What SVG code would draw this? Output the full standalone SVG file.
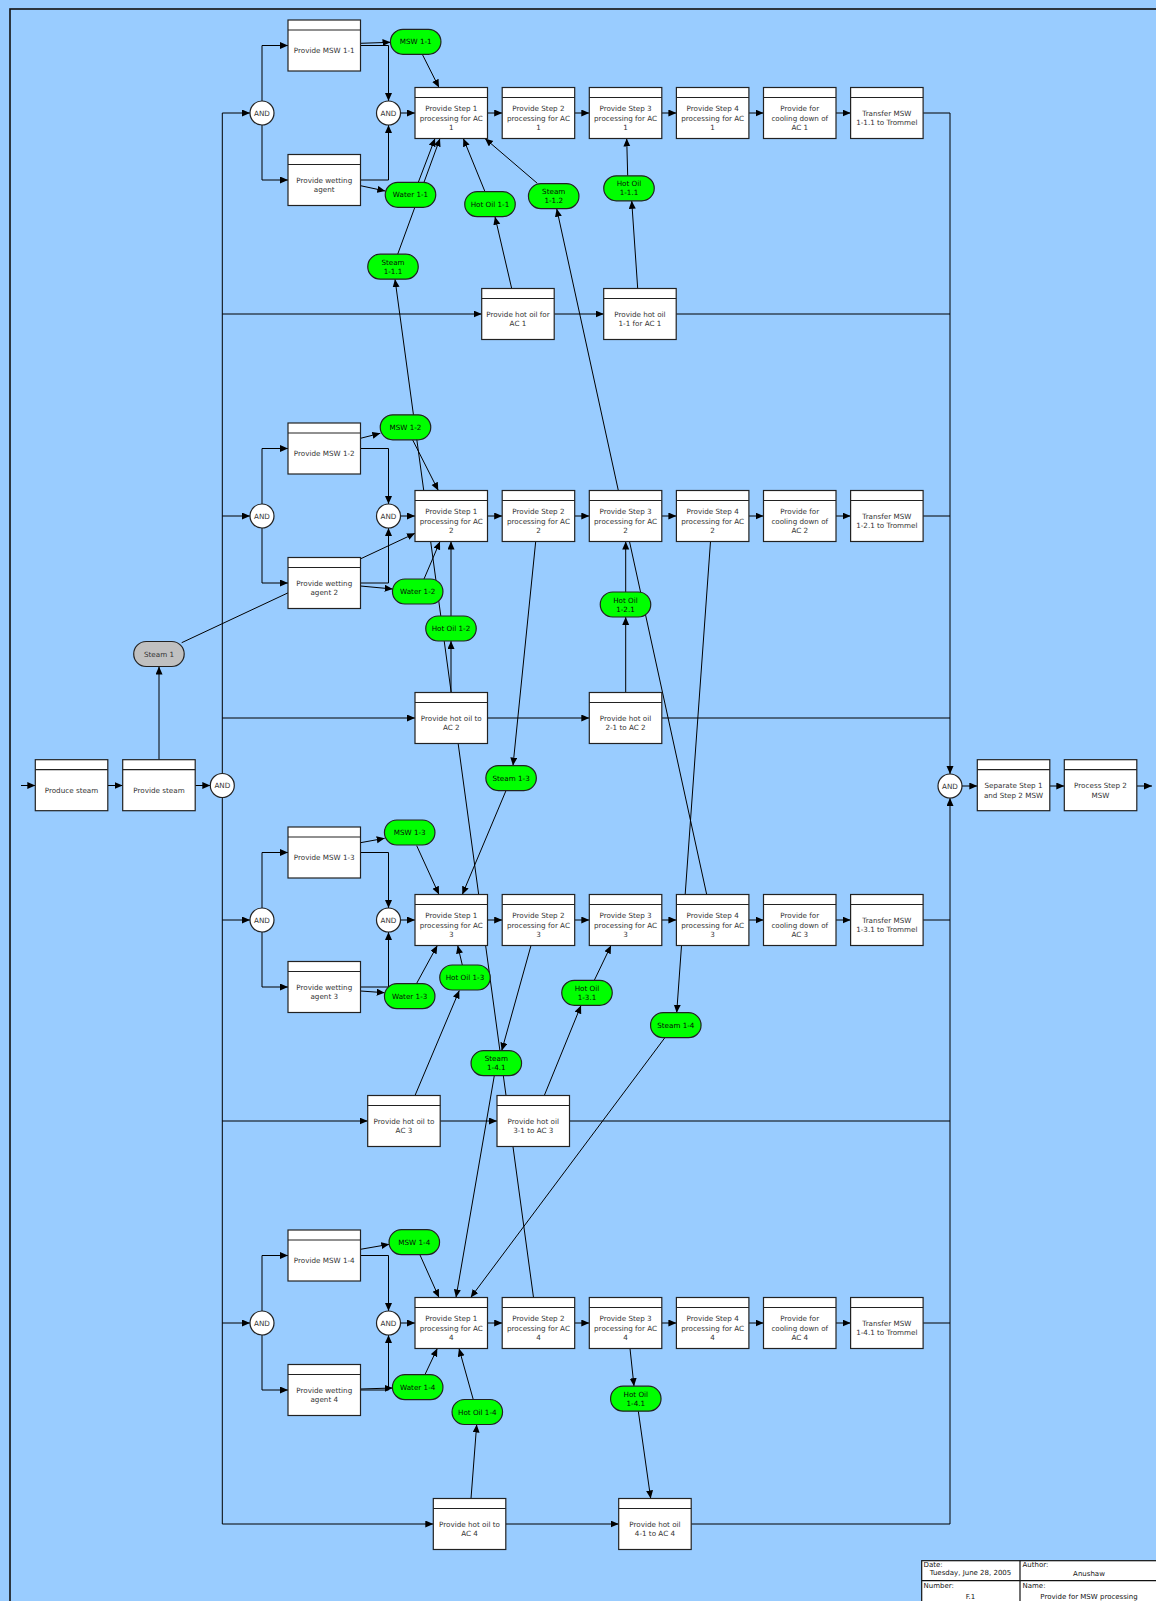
<svg xmlns="http://www.w3.org/2000/svg" width="1156" height="1601" viewBox="0 0 1156 1601">
<defs>
<marker id="ah" markerUnits="userSpaceOnUse" markerWidth="9" markerHeight="8" refX="8" refY="3.5" orient="auto"><path d="M0,0 L8,3.5 L0,7 z" fill="#000"/></marker>
</defs>
<style>
.bg{fill:#99ccff}
.frame{fill:none;stroke:#111;stroke-width:1.6}
.box{fill:#fff;stroke:#222;stroke-width:1.2}
.hdr{stroke:#222;stroke-width:1.2}
.pill{fill:#00ff00;stroke:#222;stroke-width:1.2}
.gray{fill:#c0c0c0;stroke:#222;stroke-width:1.2}
.and{fill:#fff;stroke:#222;stroke-width:1.2}
.t{font-family:"DejaVu Sans",sans-serif;font-size:7.2px;fill:#333;text-anchor:middle}
.pt{fill:#061006}
.tb{font-family:"DejaVu Sans",sans-serif;font-size:7px;fill:#111}
.c{fill:none;stroke:#000;stroke-width:1}
.a{marker-end:url(#ah)}
.tbl{fill:#fff;stroke:#111;stroke-width:1.2}
</style>
<rect class="bg" x="0" y="0" width="1156" height="1601"/>
<rect class="frame" x="10" y="9" width="1200" height="1650"/>

<!-- connectors -->
<g id="connectors">
<!-- steam supply -->
<path class="c a" d="M21,785.5 H35.3"/>
<path class="c a" d="M107.8,785.5 H122.7"/>
<path class="c a" d="M195.2,785.5 H210.3"/>
<path class="c a" d="M159,759.7 V666.6"/>
<path class="c a" d="M181.7,642.7 L415,533.3"/>
<!-- distribution trunk -->
<path class="c" d="M222.3,113 V1524"/>
<!-- collection line -->
<path class="c a" d="M950,113 V774"/>
<path class="c a" d="M950,1524 V798"/>
<path class="c a" d="M962,786 H977.3"/>
<path class="c a" d="M1049.8,786 H1064.3"/>
<path class="c a" d="M1136.8,786 H1152"/>

<!-- row 1 -->
<path class="c a" d="M222.3,113 H250"/>
<path class="c a" d="M262,101 V45.5 H288"/>
<path class="c a" d="M262,125 V180 H288"/>
<path class="c a" d="M360.5,45.5 H388.5 V101"/>
<path class="c a" d="M360.5,180 H388.5 V125"/>
<path class="c a" d="M400.5,113 H415"/>
<path class="c a" d="M487.5,113 H502.2"/>
<path class="c a" d="M574.7,113 H589.3"/>
<path class="c a" d="M661.8,113 H676.4"/>
<path class="c a" d="M748.9,113 H763.5"/>
<path class="c a" d="M836,113 H850.6"/>
<path class="c" d="M923.1,113 H950"/>
<path class="c a" d="M360.5,43.3 L390.5,42.3"/>
<path class="c a" d="M360.5,185.7 L385.3,191"/>
<path class="c a" d="M422.3,54.3 L439,87.5"/>
<path class="c a" d="M418.3,182.3 L435,138.5"/>
<path class="c a" d="M397.7,254.2 L440,138.5"/>
<path class="c a" d="M485,191.7 L463.3,138.5"/>
<path class="c a" d="M537.3,183.3 L485,138.5"/>
<path class="c a" d="M627.7,175.8 L626.7,138.5"/>
<path class="c a" d="M222.3,314 H481.7"/>
<path class="c a" d="M554.2,314 H603.7"/>
<path class="c" d="M676.2,314 H950"/>
<path class="c a" d="M511.7,288.5 L495,216.7"/>
<path class="c a" d="M637.7,288.5 L631.7,200.8"/>
<path class="c a" d="M706.7,894.5 L556.7,208.7"/>
<path class="c a" d="M533.5,1297.5 L395,279.2"/>

<!-- row 2 -->
<path class="c a" d="M222.3,516 H250"/>
<path class="c a" d="M262,504 V448.5 H288"/>
<path class="c a" d="M262,528 V583 H288"/>
<path class="c a" d="M360.5,448.5 H388.5 V504"/>
<path class="c a" d="M360.5,583 H388.5 V528"/>
<path class="c a" d="M400.5,516 H415"/>
<path class="c a" d="M487.5,516 H502.2"/>
<path class="c a" d="M574.7,516 H589.3"/>
<path class="c a" d="M661.8,516 H676.4"/>
<path class="c a" d="M748.9,516 H763.5"/>
<path class="c a" d="M836,516 H850.6"/>
<path class="c" d="M923.1,516 H950"/>
<path class="c a" d="M360.5,438.3 L380.3,433.3"/>
<path class="c a" d="M360.5,586 L392.7,589"/>
<path class="c a" d="M412.7,440 L438.3,490.5"/>
<path class="c a" d="M424,579 L440,541.5"/>
<path class="c a" d="M451,616 V541.5"/>
<path class="c a" d="M222.3,718 H415"/>
<path class="c a" d="M487.5,718 H589.3"/>
<path class="c" d="M661.8,718 H950"/>
<path class="c a" d="M451,692.5 V641"/>
<path class="c a" d="M625.7,592 V541.5"/>
<path class="c a" d="M625.7,692.5 V617"/>
<path class="c a" d="M535.7,541.5 L513,765.6"/>
<path class="c a" d="M710.5,541.5 L676.7,1012.7"/>

<!-- row 3 -->
<path class="c a" d="M222.3,920 H250"/>
<path class="c a" d="M262,908 V852.5 H288"/>
<path class="c a" d="M262,932 V987 H288"/>
<path class="c a" d="M360.5,852.5 H388.5 V908"/>
<path class="c a" d="M360.5,987 H388.5 V932"/>
<path class="c a" d="M400.5,920 H415"/>
<path class="c a" d="M487.5,920 H502.2"/>
<path class="c a" d="M574.7,920 H589.3"/>
<path class="c a" d="M661.8,920 H676.4"/>
<path class="c a" d="M748.9,920 H763.5"/>
<path class="c a" d="M836,920 H850.6"/>
<path class="c" d="M923.1,920 H950"/>
<path class="c a" d="M360.5,842.7 L384.7,838.3"/>
<path class="c a" d="M360.5,991 L384.7,992.7"/>
<path class="c a" d="M416.7,845.7 L439,894.5"/>
<path class="c a" d="M506,790.6 L462.3,894.5"/>
<path class="c a" d="M416.7,983.3 L437.3,945.5"/>
<path class="c a" d="M462.3,965 L457.7,945.5"/>
<path class="c a" d="M222.3,1121 H367.7"/>
<path class="c a" d="M440.2,1121 H497"/>
<path class="c" d="M569.5,1121 H950"/>
<path class="c a" d="M415,1095.5 L459.3,990.5"/>
<path class="c a" d="M544.3,1095.5 L581,1005.5"/>
<path class="c a" d="M594.3,980.3 L611,945.5"/>
<path class="c a" d="M531,945.5 L501.7,1050.7"/>
<path class="c a" d="M494.3,1075.7 L456,1297.5"/>
<path class="c a" d="M665,1037.5 L470.7,1297.5"/>

<!-- row 4 -->
<path class="c a" d="M222.3,1323 H250"/>
<path class="c a" d="M262,1311 V1255.5 H288"/>
<path class="c a" d="M262,1335 V1390 H288"/>
<path class="c a" d="M360.5,1255.5 H388.5 V1311"/>
<path class="c a" d="M360.5,1390 H388.5 V1335"/>
<path class="c a" d="M400.5,1323 H415"/>
<path class="c a" d="M487.5,1323 H502.2"/>
<path class="c a" d="M574.7,1323 H589.3"/>
<path class="c a" d="M661.8,1323 H676.4"/>
<path class="c a" d="M748.9,1323 H763.5"/>
<path class="c a" d="M836,1323 H850.6"/>
<path class="c" d="M923.1,1323 H950"/>
<path class="c a" d="M360.5,1249.3 L389.3,1244.3"/>
<path class="c a" d="M360.5,1389 L392.7,1388"/>
<path class="c a" d="M420,1255 L439,1297.5"/>
<path class="c a" d="M425,1374.5 L437.3,1348.5"/>
<path class="c a" d="M473.3,1399.7 L459,1348.5"/>
<path class="c a" d="M222.3,1524 H433.3"/>
<path class="c a" d="M505.8,1524 H618.7"/>
<path class="c" d="M691.2,1524 H950"/>
<path class="c a" d="M471,1498.5 L476.7,1424.5"/>
<path class="c a" d="M630,1348.5 L634,1386.2"/>
<path class="c a" d="M638.3,1411 L650.7,1498.5"/>
</g>

<!-- steam supply nodes -->
<g id="produce-steam"><rect class="box" x="35.3" y="759.7" width="72.5" height="51"/><line class="hdr" x1="35.3" y1="769.7" x2="107.8" y2="769.7"/><text class="t" x="71.5" y="792.8">Produce steam</text></g>
<g id="provide-steam"><rect class="box" x="122.7" y="759.7" width="72.5" height="51"/><line class="hdr" x1="122.7" y1="769.7" x2="195.2" y2="769.7"/><text class="t" x="159" y="792.8">Provide steam</text></g>
<g id="steam-1"><rect class="gray" x="133.7" y="641.5" width="50.5" height="25" rx="12.5"/><text class="t" x="159" y="656.6">Steam 1</text></g>
<g id="and-split"><circle class="and" cx="222.3" cy="785.5" r="12"/><text class="t" x="222.3" y="788.1">AND</text></g>
<g id="and-join"><circle class="and" cx="950" cy="786" r="12"/><text class="t" x="950" y="788.6">AND</text></g>
<g id="separate"><rect class="box" x="977.3" y="759.7" width="72.5" height="51"/><line class="hdr" x1="977.3" y1="769.7" x2="1049.8" y2="769.7"/><text class="t" x="1013.5" y="788.1">Separate Step 1<tspan x="1013.5" dy="9.5">and Step 2 MSW</tspan></text></g>
<g id="process-step2"><rect class="box" x="1064.3" y="759.7" width="72.5" height="51"/><line class="hdr" x1="1064.3" y1="769.7" x2="1136.8" y2="769.7"/><text class="t" x="1100.5" y="788.1">Process Step 2<tspan x="1100.5" dy="9.5">MSW</tspan></text></g>

<!-- row 1 nodes -->
<g id="and-1a"><circle class="and" cx="262" cy="113" r="12"/><text class="t" x="262" y="115.6">AND</text></g>
<g id="and-1b"><circle class="and" cx="388.5" cy="113" r="12"/><text class="t" x="388.5" y="115.6">AND</text></g>
<g id="msw-box-1"><rect class="box" x="288" y="20" width="72.5" height="51"/><line class="hdr" x1="288" y1="30" x2="360.5" y2="30"/><text class="t" x="324.25" y="53.1">Provide MSW 1-1</text></g>
<g id="wet-box-1"><rect class="box" x="288" y="154.5" width="72.5" height="51"/><line class="hdr" x1="288" y1="164.5" x2="360.5" y2="164.5"/><text class="t" x="324.25" y="182.9">Provide wetting<tspan x="324.25" dy="9.5">agent</tspan></text></g>
<g id="step1-1"><rect class="box" x="415" y="87.5" width="72.5" height="51"/><line class="hdr" x1="415" y1="97.5" x2="487.5" y2="97.5"/><text class="t" x="451.25" y="111.1">Provide Step 1<tspan x="451.25" dy="9.5">processing for AC</tspan><tspan x="451.25" dy="9.5">1</tspan></text></g>
<g id="step2-1"><rect class="box" x="502.2" y="87.5" width="72.5" height="51"/><line class="hdr" x1="502.2" y1="97.5" x2="574.7" y2="97.5"/><text class="t" x="538.45" y="111.1">Provide Step 2<tspan x="538.45" dy="9.5">processing for AC</tspan><tspan x="538.45" dy="9.5">1</tspan></text></g>
<g id="step3-1"><rect class="box" x="589.3" y="87.5" width="72.5" height="51"/><line class="hdr" x1="589.3" y1="97.5" x2="661.8" y2="97.5"/><text class="t" x="625.55" y="111.1">Provide Step 3<tspan x="625.55" dy="9.5">processing for AC</tspan><tspan x="625.55" dy="9.5">1</tspan></text></g>
<g id="step4-1"><rect class="box" x="676.4" y="87.5" width="72.5" height="51"/><line class="hdr" x1="676.4" y1="97.5" x2="748.9" y2="97.5"/><text class="t" x="712.65" y="111.1">Provide Step 4<tspan x="712.65" dy="9.5">processing for AC</tspan><tspan x="712.65" dy="9.5">1</tspan></text></g>
<g id="cool-1"><rect class="box" x="763.5" y="87.5" width="72.5" height="51"/><line class="hdr" x1="763.5" y1="97.5" x2="836" y2="97.5"/><text class="t" x="799.75" y="111.1">Provide for<tspan x="799.75" dy="9.5">cooling down of</tspan><tspan x="799.75" dy="9.5">AC 1</tspan></text></g>
<g id="transfer-1"><rect class="box" x="850.6" y="87.5" width="72.5" height="51"/><line class="hdr" x1="850.6" y1="97.5" x2="923.1" y2="97.5"/><text class="t" x="886.85" y="115.9">Transfer MSW<tspan x="886.85" dy="9.5">1-1.1 to Trommel</tspan></text></g>
<g id="hotoil-a-1"><rect class="box" x="481.7" y="288.5" width="72.5" height="51"/><line class="hdr" x1="481.7" y1="298.5" x2="554.2" y2="298.5"/><text class="t" x="517.95" y="316.9">Provide hot oil for<tspan x="517.95" dy="9.5">AC 1</tspan></text></g>
<g id="hotoil-b-1"><rect class="box" x="603.7" y="288.5" width="72.5" height="51"/><line class="hdr" x1="603.7" y1="298.5" x2="676.2" y2="298.5"/><text class="t" x="639.95" y="316.9">Provide hot oil<tspan x="639.95" dy="9.5">1-1 for AC 1</tspan></text></g>
<g id="msw-1-1"><rect class="pill" x="390.45" y="29.3" width="50.5" height="25" rx="12.5"/><text class="t pt" x="415.7" y="44.4">MSW 1-1</text></g>
<g id="water-1-1"><rect class="pill" x="385.25" y="182.3" width="50.5" height="25" rx="12.5"/><text class="t pt" x="410.5" y="197.4">Water 1-1</text></g>
<g id="hotoil-1-1"><rect class="pill" x="464.75" y="191.7" width="50.5" height="25" rx="12.5"/><text class="t pt" x="490" y="206.8">Hot Oil 1-1</text></g>
<g id="steam-1-1-2"><rect class="pill" x="528.45" y="183.7" width="50.5" height="25" rx="12.5"/><text class="t pt" x="553.7" y="194.3">Steam<tspan x="553.7" dy="9">1-1.2</tspan></text></g>
<g id="hotoil-1-1-1"><rect class="pill" x="603.75" y="175.8" width="50.5" height="25" rx="12.5"/><text class="t pt" x="629" y="186.4">Hot Oil<tspan x="629" dy="9">1-1.1</tspan></text></g>
<g id="steam-1-1-1"><rect class="pill" x="367.75" y="254.2" width="50.5" height="25" rx="12.5"/><text class="t pt" x="393" y="264.8">Steam<tspan x="393" dy="9">1-1.1</tspan></text></g>

<!-- row 2 nodes -->
<g id="and-2a"><circle class="and" cx="262" cy="516" r="12"/><text class="t" x="262" y="518.6">AND</text></g>
<g id="and-2b"><circle class="and" cx="388.5" cy="516" r="12"/><text class="t" x="388.5" y="518.6">AND</text></g>
<g id="msw-box-2"><rect class="box" x="288" y="423" width="72.5" height="51"/><line class="hdr" x1="288" y1="433" x2="360.5" y2="433"/><text class="t" x="324.25" y="456.1">Provide MSW 1-2</text></g>
<g id="wet-box-2"><rect class="box" x="288" y="557.5" width="72.5" height="51"/><line class="hdr" x1="288" y1="567.5" x2="360.5" y2="567.5"/><text class="t" x="324.25" y="585.9">Provide wetting<tspan x="324.25" dy="9.5">agent 2</tspan></text></g>
<g id="step1-2"><rect class="box" x="415" y="490.5" width="72.5" height="51"/><line class="hdr" x1="415" y1="500.5" x2="487.5" y2="500.5"/><text class="t" x="451.25" y="514.1">Provide Step 1<tspan x="451.25" dy="9.5">processing for AC</tspan><tspan x="451.25" dy="9.5">2</tspan></text></g>
<g id="step2-2"><rect class="box" x="502.2" y="490.5" width="72.5" height="51"/><line class="hdr" x1="502.2" y1="500.5" x2="574.7" y2="500.5"/><text class="t" x="538.45" y="514.1">Provide Step 2<tspan x="538.45" dy="9.5">processing for AC</tspan><tspan x="538.45" dy="9.5">2</tspan></text></g>
<g id="step3-2"><rect class="box" x="589.3" y="490.5" width="72.5" height="51"/><line class="hdr" x1="589.3" y1="500.5" x2="661.8" y2="500.5"/><text class="t" x="625.55" y="514.1">Provide Step 3<tspan x="625.55" dy="9.5">processing for AC</tspan><tspan x="625.55" dy="9.5">2</tspan></text></g>
<g id="step4-2"><rect class="box" x="676.4" y="490.5" width="72.5" height="51"/><line class="hdr" x1="676.4" y1="500.5" x2="748.9" y2="500.5"/><text class="t" x="712.65" y="514.1">Provide Step 4<tspan x="712.65" dy="9.5">processing for AC</tspan><tspan x="712.65" dy="9.5">2</tspan></text></g>
<g id="cool-2"><rect class="box" x="763.5" y="490.5" width="72.5" height="51"/><line class="hdr" x1="763.5" y1="500.5" x2="836" y2="500.5"/><text class="t" x="799.75" y="514.1">Provide for<tspan x="799.75" dy="9.5">cooling down of</tspan><tspan x="799.75" dy="9.5">AC 2</tspan></text></g>
<g id="transfer-2"><rect class="box" x="850.6" y="490.5" width="72.5" height="51"/><line class="hdr" x1="850.6" y1="500.5" x2="923.1" y2="500.5"/><text class="t" x="886.85" y="518.9">Transfer MSW<tspan x="886.85" dy="9.5">1-2.1 to Trommel</tspan></text></g>
<g id="hotoil-a-2"><rect class="box" x="415" y="692.5" width="72.5" height="51"/><line class="hdr" x1="415" y1="702.5" x2="487.5" y2="702.5"/><text class="t" x="451.25" y="720.9">Provide hot oil to<tspan x="451.25" dy="9.5">AC 2</tspan></text></g>
<g id="hotoil-b-2"><rect class="box" x="589.3" y="692.5" width="72.5" height="51"/><line class="hdr" x1="589.3" y1="702.5" x2="661.8" y2="702.5"/><text class="t" x="625.55" y="720.9">Provide hot oil<tspan x="625.55" dy="9.5">2-1 to AC 2</tspan></text></g>
<g id="msw-1-2"><rect class="pill" x="380.25" y="414.8" width="50.5" height="25" rx="12.5"/><text class="t pt" x="405.5" y="429.9">MSW 1-2</text></g>
<g id="water-1-2"><rect class="pill" x="392.45" y="579" width="50.5" height="25" rx="12.5"/><text class="t pt" x="417.7" y="594.1">Water 1-2</text></g>
<g id="hotoil-1-2"><rect class="pill" x="425.75" y="616" width="50.5" height="25" rx="12.5"/><text class="t pt" x="451" y="631.1">Hot Oil 1-2</text></g>
<g id="hotoil-1-2-1"><rect class="pill" x="600.25" y="592" width="50.5" height="25" rx="12.5"/><text class="t pt" x="625.5" y="602.6">Hot Oil<tspan x="625.5" dy="9">1-2.1</tspan></text></g>
<g id="steam-1-3"><rect class="pill" x="485.85" y="765.6" width="50.5" height="25" rx="12.5"/><text class="t pt" x="511.1" y="780.7">Steam 1-3</text></g>

<!-- row 3 nodes -->
<g id="and-3a"><circle class="and" cx="262" cy="920" r="12"/><text class="t" x="262" y="922.6">AND</text></g>
<g id="and-3b"><circle class="and" cx="388.5" cy="920" r="12"/><text class="t" x="388.5" y="922.6">AND</text></g>
<g id="msw-box-3"><rect class="box" x="288" y="827" width="72.5" height="51"/><line class="hdr" x1="288" y1="837" x2="360.5" y2="837"/><text class="t" x="324.25" y="860.1">Provide MSW 1-3</text></g>
<g id="wet-box-3"><rect class="box" x="288" y="961.5" width="72.5" height="51"/><line class="hdr" x1="288" y1="971.5" x2="360.5" y2="971.5"/><text class="t" x="324.25" y="989.9">Provide wetting<tspan x="324.25" dy="9.5">agent 3</tspan></text></g>
<g id="step1-3"><rect class="box" x="415" y="894.5" width="72.5" height="51"/><line class="hdr" x1="415" y1="904.5" x2="487.5" y2="904.5"/><text class="t" x="451.25" y="918.1">Provide Step 1<tspan x="451.25" dy="9.5">processing for AC</tspan><tspan x="451.25" dy="9.5">3</tspan></text></g>
<g id="step2-3"><rect class="box" x="502.2" y="894.5" width="72.5" height="51"/><line class="hdr" x1="502.2" y1="904.5" x2="574.7" y2="904.5"/><text class="t" x="538.45" y="918.1">Provide Step 2<tspan x="538.45" dy="9.5">processing for AC</tspan><tspan x="538.45" dy="9.5">3</tspan></text></g>
<g id="step3-3"><rect class="box" x="589.3" y="894.5" width="72.5" height="51"/><line class="hdr" x1="589.3" y1="904.5" x2="661.8" y2="904.5"/><text class="t" x="625.55" y="918.1">Provide Step 3<tspan x="625.55" dy="9.5">processing for AC</tspan><tspan x="625.55" dy="9.5">3</tspan></text></g>
<g id="step4-3"><rect class="box" x="676.4" y="894.5" width="72.5" height="51"/><line class="hdr" x1="676.4" y1="904.5" x2="748.9" y2="904.5"/><text class="t" x="712.65" y="918.1">Provide Step 4<tspan x="712.65" dy="9.5">processing for AC</tspan><tspan x="712.65" dy="9.5">3</tspan></text></g>
<g id="cool-3"><rect class="box" x="763.5" y="894.5" width="72.5" height="51"/><line class="hdr" x1="763.5" y1="904.5" x2="836" y2="904.5"/><text class="t" x="799.75" y="918.1">Provide for<tspan x="799.75" dy="9.5">cooling down of</tspan><tspan x="799.75" dy="9.5">AC 3</tspan></text></g>
<g id="transfer-3"><rect class="box" x="850.6" y="894.5" width="72.5" height="51"/><line class="hdr" x1="850.6" y1="904.5" x2="923.1" y2="904.5"/><text class="t" x="886.85" y="922.9">Transfer MSW<tspan x="886.85" dy="9.5">1-3.1 to Trommel</tspan></text></g>
<g id="hotoil-a-3"><rect class="box" x="367.7" y="1095.5" width="72.5" height="51"/><line class="hdr" x1="367.7" y1="1105.5" x2="440.2" y2="1105.5"/><text class="t" x="403.95" y="1123.9">Provide hot oil to<tspan x="403.95" dy="9.5">AC 3</tspan></text></g>
<g id="hotoil-b-3"><rect class="box" x="497" y="1095.5" width="72.5" height="51"/><line class="hdr" x1="497" y1="1105.5" x2="569.5" y2="1105.5"/><text class="t" x="533.25" y="1123.9">Provide hot oil<tspan x="533.25" dy="9.5">3-1 to AC 3</tspan></text></g>
<g id="msw-1-3"><rect class="pill" x="384.45" y="820" width="50.5" height="25" rx="12.5"/><text class="t pt" x="409.7" y="835.1">MSW 1-3</text></g>
<g id="water-1-3"><rect class="pill" x="384.45" y="983.7" width="50.5" height="25" rx="12.5"/><text class="t pt" x="409.7" y="998.8">Water 1-3</text></g>
<g id="hotoil-1-3"><rect class="pill" x="439.75" y="965" width="50.5" height="25" rx="12.5"/><text class="t pt" x="465" y="980.1">Hot Oil 1-3</text></g>
<g id="steam-1-4-1"><rect class="pill" x="471.05" y="1050.7" width="50.5" height="25" rx="12.5"/><text class="t pt" x="496.3" y="1061.3">Steam<tspan x="496.3" dy="9">1-4.1</tspan></text></g>
<g id="hotoil-1-3-1"><rect class="pill" x="561.75" y="980.3" width="50.5" height="25" rx="12.5"/><text class="t pt" x="587" y="990.9">Hot Oil<tspan x="587" dy="9">1-3.1</tspan></text></g>
<g id="steam-1-4"><rect class="pill" x="650.55" y="1012.7" width="50.5" height="25" rx="12.5"/><text class="t pt" x="675.8" y="1027.8">Steam 1-4</text></g>

<!-- row 4 nodes -->
<g id="and-4a"><circle class="and" cx="262" cy="1323" r="12"/><text class="t" x="262" y="1325.6">AND</text></g>
<g id="and-4b"><circle class="and" cx="388.5" cy="1323" r="12"/><text class="t" x="388.5" y="1325.6">AND</text></g>
<g id="msw-box-4"><rect class="box" x="288" y="1230" width="72.5" height="51"/><line class="hdr" x1="288" y1="1240" x2="360.5" y2="1240"/><text class="t" x="324.25" y="1263.1">Provide MSW 1-4</text></g>
<g id="wet-box-4"><rect class="box" x="288" y="1364.5" width="72.5" height="51"/><line class="hdr" x1="288" y1="1374.5" x2="360.5" y2="1374.5"/><text class="t" x="324.25" y="1392.9">Provide wetting<tspan x="324.25" dy="9.5">agent 4</tspan></text></g>
<g id="step1-4"><rect class="box" x="415" y="1297.5" width="72.5" height="51"/><line class="hdr" x1="415" y1="1307.5" x2="487.5" y2="1307.5"/><text class="t" x="451.25" y="1321.1">Provide Step 1<tspan x="451.25" dy="9.5">processing for AC</tspan><tspan x="451.25" dy="9.5">4</tspan></text></g>
<g id="step2-4"><rect class="box" x="502.2" y="1297.5" width="72.5" height="51"/><line class="hdr" x1="502.2" y1="1307.5" x2="574.7" y2="1307.5"/><text class="t" x="538.45" y="1321.1">Provide Step 2<tspan x="538.45" dy="9.5">processing for AC</tspan><tspan x="538.45" dy="9.5">4</tspan></text></g>
<g id="step3-4"><rect class="box" x="589.3" y="1297.5" width="72.5" height="51"/><line class="hdr" x1="589.3" y1="1307.5" x2="661.8" y2="1307.5"/><text class="t" x="625.55" y="1321.1">Provide Step 3<tspan x="625.55" dy="9.5">processing for AC</tspan><tspan x="625.55" dy="9.5">4</tspan></text></g>
<g id="step4-4"><rect class="box" x="676.4" y="1297.5" width="72.5" height="51"/><line class="hdr" x1="676.4" y1="1307.5" x2="748.9" y2="1307.5"/><text class="t" x="712.65" y="1321.1">Provide Step 4<tspan x="712.65" dy="9.5">processing for AC</tspan><tspan x="712.65" dy="9.5">4</tspan></text></g>
<g id="cool-4"><rect class="box" x="763.5" y="1297.5" width="72.5" height="51"/><line class="hdr" x1="763.5" y1="1307.5" x2="836" y2="1307.5"/><text class="t" x="799.75" y="1321.1">Provide for<tspan x="799.75" dy="9.5">cooling down of</tspan><tspan x="799.75" dy="9.5">AC 4</tspan></text></g>
<g id="transfer-4"><rect class="box" x="850.6" y="1297.5" width="72.5" height="51"/><line class="hdr" x1="850.6" y1="1307.5" x2="923.1" y2="1307.5"/><text class="t" x="886.85" y="1325.9">Transfer MSW<tspan x="886.85" dy="9.5">1-4.1 to Trommel</tspan></text></g>
<g id="hotoil-a-4"><rect class="box" x="433.3" y="1498.5" width="72.5" height="51"/><line class="hdr" x1="433.3" y1="1508.5" x2="505.8" y2="1508.5"/><text class="t" x="469.55" y="1526.9">Provide hot oil to<tspan x="469.55" dy="9.5">AC 4</tspan></text></g>
<g id="hotoil-b-4"><rect class="box" x="618.7" y="1498.5" width="72.5" height="51"/><line class="hdr" x1="618.7" y1="1508.5" x2="691.2" y2="1508.5"/><text class="t" x="654.95" y="1526.9">Provide hot oil<tspan x="654.95" dy="9.5">4-1 to AC 4</tspan></text></g>
<g id="msw-1-4"><rect class="pill" x="389.05" y="1229.7" width="50.5" height="25" rx="12.5"/><text class="t pt" x="414.3" y="1244.8">MSW 1-4</text></g>
<g id="water-1-4"><rect class="pill" x="392.45" y="1374.7" width="50.5" height="25" rx="12.5"/><text class="t pt" x="417.7" y="1389.8">Water 1-4</text></g>
<g id="hotoil-1-4"><rect class="pill" x="452.05" y="1399.5" width="50.5" height="25" rx="12.5"/><text class="t pt" x="477.3" y="1414.6">Hot Oil 1-4</text></g>
<g id="hotoil-1-4-1"><rect class="pill" x="610.55" y="1386.2" width="50.5" height="25" rx="12.5"/><text class="t pt" x="635.8" y="1396.8">Hot Oil<tspan x="635.8" dy="9">1-4.1</tspan></text></g>

<!-- title block -->
<g id="title-block">
<rect class="tbl" x="921.7" y="1560.7" width="260" height="60"/>
<line class="tbl" x1="1020" y1="1560.7" x2="1020" y2="1601"/>
<line class="tbl" x1="921.7" y1="1580.7" x2="1156" y2="1580.7"/>
<text class="tb" x="923.5" y="1567">Date:</text>
<text class="tb" x="970.5" y="1575" text-anchor="middle">Tuesday, June 28, 2005</text>
<text class="tb" x="1022.5" y="1567">Author:</text>
<text class="tb" x="1089" y="1575.5" text-anchor="middle">Anushaw</text>
<text class="tb" x="923.5" y="1587.5">Number:</text>
<text class="tb" x="970.5" y="1599" text-anchor="middle">F.1</text>
<text class="tb" x="1022.5" y="1587.5">Name:</text>
<text class="tb" x="1089" y="1599" text-anchor="middle">Provide for MSW processing</text>
</g>
</svg>
